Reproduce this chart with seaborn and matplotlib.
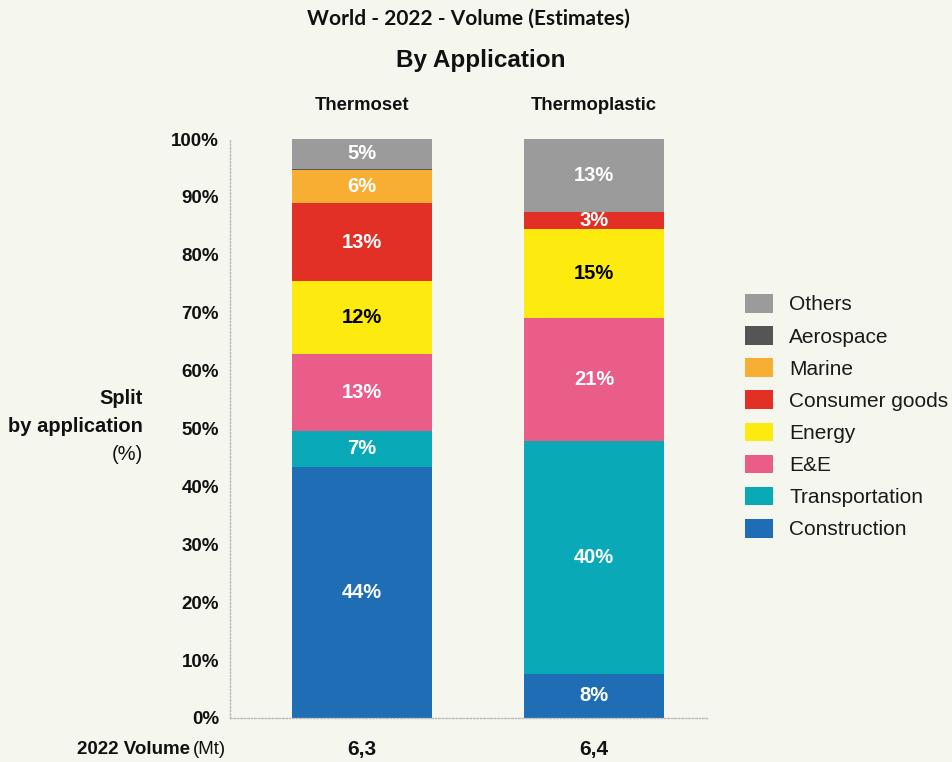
import matplotlib
matplotlib.use("Agg")
import matplotlib.pyplot as plt
from matplotlib.patches import Patch
import seaborn as sns
import pandas as pd
import numpy as np

# ---- data ----
resins = ["Thermoset", "Thermoplastic"]
volumes = ["6,3", "6,4"]
applications = ["Construction", "Transportation", "E&E", "Energy",
                "Consumer goods", "Marine", "Aerospace", "Others"]
thermoset_share = [43.4, 6.2, 13.3, 12.6, 13.4, 5.7, 0.3, 5.1]
thermoplastic_share = [7.6, 40.2, 21.3, 15.4, 2.9, 0.0, 0.0, 12.6]
thermoset_labels = ["44%", "7%", "13%", "12%", "13%", "6%", "", "5%"]
thermoplastic_labels = ["8%", "40%", "21%", "15%", "3%", "", "", "13%"]
colors = ["#1f6db5", "#0aa9b8", "#e95d88", "#fdea0f",
          "#e33027", "#f7ae32", "#555555", "#9b9b9b"]
yticks = [0, 10, 20, 30, 40, 50, 60, 70, 80, 90, 100]

BG = "#f5f7ee"
sns.set_theme(style="white")
plt.rcParams["font.family"] = ["Liberation Sans", "DejaVu Sans"]
plt.rcParams["text.color"] = "#111111"
plt.rcParams["ytick.color"] = "#111111"
plt.rcParams["ytick.labelcolor"] = "#111111"

fig = plt.figure(figsize=(9.53, 7.62), dpi=100, facecolor=BG)
ax = fig.add_axes([230 / 953, 1 - 718 / 762, 477 / 953, (718 - 139) / 762])
ax.set_facecolor("none")

shares = np.array([thermoset_share, thermoplastic_share])
cum = np.cumsum(shares, axis=1)
rows = []
for i, r in enumerate(resins):
    for j, a in enumerate(applications):
        rows.append({"resin": r, "application": a, "cum": cum[i, j],
                     "share": shares[i, j]})
df = pd.DataFrame(rows)

# draw cumulative bars from top layer down (stacked effect)
for j in range(len(applications) - 1, -1, -1):
    sub = df[df["application"] == applications[j]]
    sns.barplot(data=sub, x="resin", y="cum", order=resins, color=colors[j],
                width=0.6, saturation=1, ax=ax, linewidth=0, errorbar=None)

# segment labels
labels = [thermoset_labels, thermoplastic_labels]
for i in range(len(resins)):
    for j in range(len(applications)):
        txt = labels[i][j]
        if not txt:
            continue
        y = cum[i, j] - shares[i, j] / 2
        c = "black" if applications[j] == "Energy" else "white"
        ax.text(i, y, txt, ha="center", va="center", color=c,
                fontsize=14.5, fontweight="bold")

ax.set_xlim(-0.569, 1.487)
ax.set_ylim(0, 100)
ax.set_yticks(yticks)
ax.set_yticklabels([f"{v}%" for v in yticks], fontsize=13.5, fontweight="bold")
ax.set_xticks([])
ax.set_xlabel("")
ax.set_ylabel("")
ax.tick_params(axis="y", length=0, pad=8)
for s in ["top", "right"]:
    ax.spines[s].set_visible(False)
for s in ["left", "bottom"]:
    ax.spines[s].set_linestyle((0, (1, 1.5)))
    ax.spines[s].set_color("#b8b8b8")
    ax.spines[s].set_linewidth(1)

# column titles and volumes
for i, r in enumerate(resins):
    x_fig = (230 + (i * 232 + 132)) / 953
    fig.text(x_fig, 1 - 105 / 762, r, ha="center", va="center",
             fontsize=13.3, fontweight="bold")
    fig.text(x_fig, 1 - 749 / 762, volumes[i], ha="center", va="center",
             fontsize=15, fontweight="bold")

fig.text(468 / 953, 1 - 19 / 762, "World - 2022 - Volume (Estimates)",
         ha="center", va="center", fontsize=15, fontweight="bold",
         family=["Lato", "DejaVu Sans"])
fig.text(481 / 953, 1 - 61 / 762, "By Application", ha="center", va="center",
         fontsize=17.5, fontweight="bold")

# y-axis title
for txt, yy, w in [("Split", 398, "bold"), ("by application", 426, "bold"),
                   ("(%)", 455, "normal")]:
    fig.text(143 / 953, 1 - yy / 762, txt, ha="right", va="center",
             fontsize=14.5, fontweight=w)

fig.text(190 / 953, 1 - 749 / 762, "2022 Volume", ha="right", va="center",
         fontsize=13.5, fontweight="bold")
fig.text(193 / 953, 1 - 749 / 762, "(Mt)", ha="left", va="center",
         fontsize=13.5, fontweight="normal")

# legend
handles = [Patch(facecolor=colors[j], edgecolor="none", label=applications[j])
           for j in range(len(applications) - 1, -1, -1)]
fig.legend(handles=handles, loc="upper left",
           bbox_to_anchor=(745 / 953, 1 - 294 / 762), frameon=False,
           fontsize=15, handlelength=1.35, handleheight=1.0,
           labelspacing=0.56, handletextpad=0.78, borderpad=0, borderaxespad=0,
           labelcolor="#1a1a1a")

fig.savefig("out.png", dpi=100, facecolor=BG)
